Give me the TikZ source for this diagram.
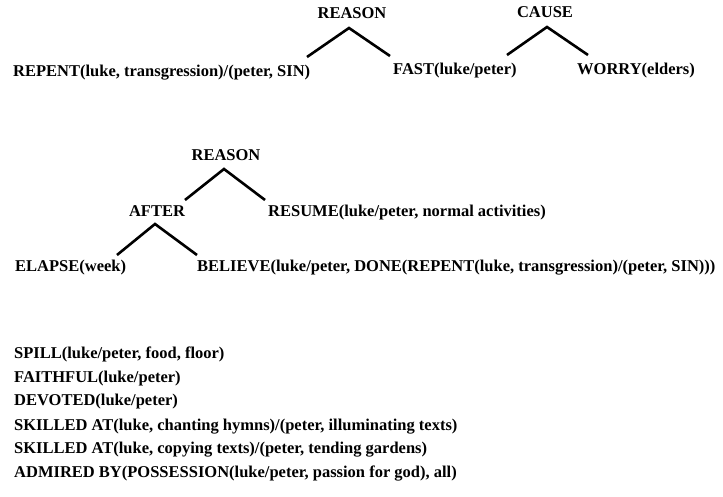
\documentclass[tikz,border=0pt]{standalone}
\usepackage{fontspec}
\setmainfont{Liberation Serif}
\begin{document}
\begin{tikzpicture}[x=1pt,y=-1pt,
  lbl/.style={font=\fontsize{16.5}{18}\selectfont\bfseries, inner sep=0pt},
  lw/.style={lbl, anchor=base west},
  lc/.style={lbl, anchor=base},
  branch/.style={line width=2.6pt}]
\useasboundingbox (0,0) rectangle (723,497);
% row 1
\node[lc] (reason1) at (352,19) {REASON};
\node[lc] (cause) at (545,18) {CAUSE};
\node[lw] (repent) at (13,77) {REPENT(luke, transgression)/(peter, SIN)};
\node[lw] (fast) at (393,75) {FAST(luke/peter)};
\node[lw] (worry) at (577,75) {WORRY(elders)};
\coordinate (r1a) at (349,28);
\coordinate (r1l) at (307,57);
\coordinate (r1r) at (390,56);
\coordinate (ca) at (547,27);
\coordinate (cl) at (507,55);
\coordinate (cr) at (588,55);
\draw[branch] (r1l) -- (r1a) -- (r1r);
\draw[branch] (cl) -- (ca) -- (cr);
% row 2
\node[lc] (reason2) at (226,161) {REASON};
\node[lc] (after) at (157,217) {AFTER};
\node[lw] (resume) at (268,217) {RESUME(luke/peter, normal activities)};
\node[lw] (elapse) at (15,272) {ELAPSE(week)};
\node[lw] (believe) at (197,272) {BELIEVE(luke/peter, DONE(REPENT(luke, transgression)/(peter, SIN)))};
\coordinate (r2a) at (224,169);
\coordinate (r2l) at (185,200);
\coordinate (r2r) at (265,200);
\coordinate (aa) at (155,224);
\coordinate (al) at (117,255);
\coordinate (ar) at (197,255);
\draw[branch] (r2l) -- (r2a) -- (r2r);
\draw[branch] (al) -- (aa) -- (ar);
% list
\node[lw] (l1) at (14,358) {SPILL(luke/peter, food, floor)};
\node[lw] (l2) at (14,382) {FAITHFUL(luke/peter)};
\node[lw] (l3) at (14,405) {DEVOTED(luke/peter)};
\node[lw] (l4) at (14,430) {SKILLED AT(luke, chanting hymns)/(peter, illuminating texts)};
\node[lw] (l5) at (14,453) {SKILLED AT(luke, copying texts)/(peter, tending gardens)};
\node[lw] (l6) at (14,477) {ADMIRED BY(POSSESSION(luke/peter, passion for god), all)};
\end{tikzpicture}
\end{document}
